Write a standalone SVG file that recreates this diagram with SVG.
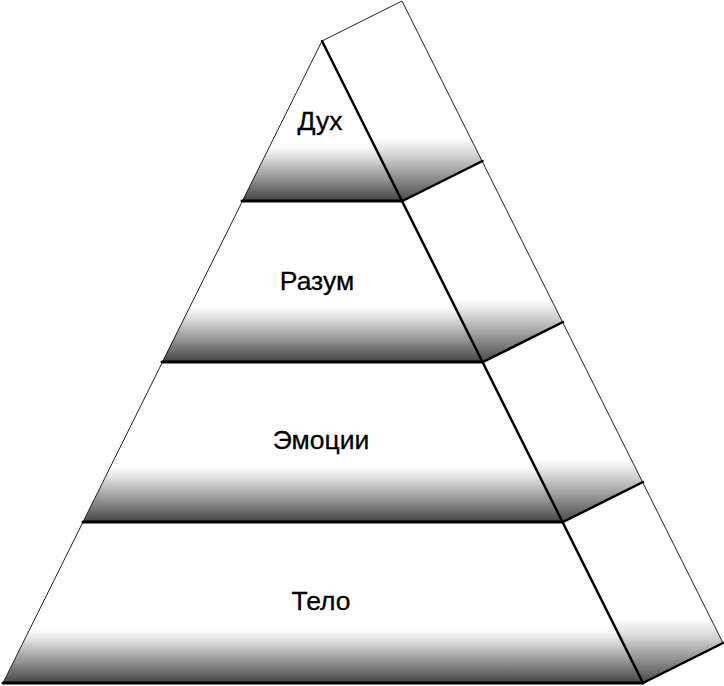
<svg xmlns="http://www.w3.org/2000/svg" width="724" height="686" viewBox="0 0 724 686">
<style>
.lbl{font-family:"Liberation Sans",Arial,sans-serif;font-size:26.5px;fill:#000;text-anchor:middle;stroke:#000;stroke-width:0.3}
.thin{stroke:#222;stroke-width:1;fill:none}
.thick{stroke:#000;stroke-width:3;fill:none;stroke-linecap:round}
.mid{stroke:#000;stroke-width:2.5;fill:none;stroke-linecap:round}
</style>
<defs>
<linearGradient id="g1" gradientUnits="userSpaceOnUse" x1="0" y1="146" x2="0" y2="201">
<stop offset="0" stop-color="#fff"/><stop offset="0.2" stop-color="#dedede"/><stop offset="0.6" stop-color="#939393"/><stop offset="1" stop-color="#444"/></linearGradient>
<linearGradient id="g2" gradientUnits="userSpaceOnUse" x1="0" y1="307" x2="0" y2="362">
<stop offset="0" stop-color="#fff"/><stop offset="0.2" stop-color="#dedede"/><stop offset="0.6" stop-color="#939393"/><stop offset="1" stop-color="#444"/></linearGradient>
<linearGradient id="g3" gradientUnits="userSpaceOnUse" x1="0" y1="467" x2="0" y2="522">
<stop offset="0" stop-color="#fff"/><stop offset="0.2" stop-color="#dedede"/><stop offset="0.6" stop-color="#939393"/><stop offset="1" stop-color="#444"/></linearGradient>
<linearGradient id="g4" gradientUnits="userSpaceOnUse" x1="0" y1="630" x2="0" y2="683">
<stop offset="0" stop-color="#fff"/><stop offset="0.2" stop-color="#dedede"/><stop offset="0.6" stop-color="#939393"/><stop offset="1" stop-color="#444"/></linearGradient>
<linearGradient id="s1" gradientUnits="userSpaceOnUse" x1="0" y1="138" x2="0" y2="201">
<stop offset="0" stop-color="#fff"/><stop offset="0.25" stop-color="#d8d8d8"/><stop offset="0.6" stop-color="#959595"/><stop offset="1" stop-color="#4a4a4a"/></linearGradient>
<linearGradient id="s2" gradientUnits="userSpaceOnUse" x1="0" y1="299" x2="0" y2="362">
<stop offset="0" stop-color="#fff"/><stop offset="0.25" stop-color="#d8d8d8"/><stop offset="0.6" stop-color="#959595"/><stop offset="1" stop-color="#4a4a4a"/></linearGradient>
<linearGradient id="s3" gradientUnits="userSpaceOnUse" x1="0" y1="459" x2="0" y2="522">
<stop offset="0" stop-color="#fff"/><stop offset="0.25" stop-color="#d8d8d8"/><stop offset="0.6" stop-color="#959595"/><stop offset="1" stop-color="#4a4a4a"/></linearGradient>
<linearGradient id="s4" gradientUnits="userSpaceOnUse" x1="0" y1="620" x2="0" y2="683">
<stop offset="0" stop-color="#fff"/><stop offset="0.25" stop-color="#d8d8d8"/><stop offset="0.6" stop-color="#959595"/><stop offset="1" stop-color="#4a4a4a"/></linearGradient>
</defs>
<rect width="724" height="686" fill="#fff"/>
<g id="tier-dukh">
<polygon points="322,41 402.5,201 242,201" fill="url(#g1)"/>
<polygon points="322,41 402,1 482.5,161 402.5,201" fill="url(#s1)"/>
<text class="lbl" x="320" y="130">Дух</text>
</g>
<g id="tier-razum">
<polygon points="242,201 402.5,201 483,362 162,362" fill="url(#g2)"/>
<polygon points="402.5,201 482.5,161 563,322 483,362" fill="url(#s2)"/>
<text class="lbl" x="317" y="290">Разум</text>
</g>
<g id="tier-emotsii">
<polygon points="162,362 483,362 563,522 83,522" fill="url(#g3)"/>
<polygon points="483,362 563,322 643,482 563,522" fill="url(#s3)"/>
<text class="lbl" x="321" y="449">Эмоции</text>
</g>
<g id="tier-telo">
<polygon points="83,522 563,522 643,683 3,683" fill="url(#g4)"/>
<polygon points="563,522 643,482 723,643 643,683" fill="url(#s4)"/>
<text class="lbl" x="321" y="610">Тело</text>
</g>
<g id="connectors">
<line class="thin" x1="322" y1="41" x2="3" y2="683"/>
<line class="thin" x1="322" y1="41" x2="402" y2="1"/>
<line class="thin" x1="402" y1="1" x2="723" y2="643"/>
<line class="mid" x1="322" y1="41" x2="643" y2="683"/>
<line class="thick" x1="242" y1="201" x2="402.5" y2="201"/>
<line class="thick" x1="162" y1="362" x2="483" y2="362"/>
<line class="thick" x1="83" y1="522" x2="563" y2="522"/>
<line class="thick" x1="3" y1="683" x2="643" y2="683"/>
<line class="mid" x1="402.5" y1="201" x2="482.5" y2="161"/>
<line class="mid" x1="483" y1="362" x2="563" y2="322"/>
<line class="mid" x1="563" y1="522" x2="643" y2="482"/>
<line class="mid" x1="643" y1="683" x2="723" y2="643"/>
</g>
</svg>
